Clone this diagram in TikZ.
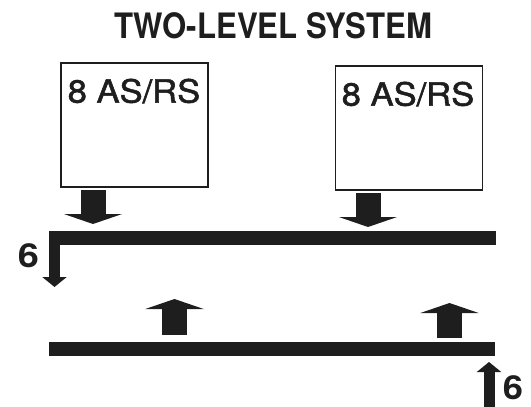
\documentclass[tikz,border=0pt]{standalone}
\usepackage{fontspec}
\setmainfont{TeX Gyre Heros}
\newfontfamily\medfont[FakeBold=1.6]{TeX Gyre Heros}
\usetikzlibrary{arrows.meta}
\definecolor{ink}{HTML}{1E1E1E}
\begin{document}
\begin{tikzpicture}[x=1pt,y=-1pt,
  station/.style={draw=ink,line width=1.4pt,inner sep=0pt,minimum width=147pt,minimum height=124pt},
  stlabel/.style={text=ink,inner sep=0pt,font=\medfont\fontsize{32}{32}\selectfont},
  heading/.style={text=ink,inner sep=0pt,font=\bfseries\fontsize{35}{35}\selectfont},
  count/.style={text=ink,inner sep=0pt,font=\bfseries\fontsize{33}{33}\selectfont},
  track/.style={draw=ink,line width=14pt},
  feed/.style={draw=ink,line width=25pt,-{Triangle[width=58pt,length=10pt]}},
  link/.style={draw=ink,line width=11pt,-{Triangle[width=24pt,length=10pt]}}]
\useasboundingbox (0,0) rectangle (531,407);

% title
\node[heading] (title) at (273,25.5) {\scalebox{0.89}[1]{TWO-LEVEL SYSTEM}};

% the two storage blocks
\node[station] (boxL) at (134.5,125) {};
\node[station] (boxR) at (409,128) {};
\node[stlabel] (labL) at (134,91) {\scalebox{1.08}[1]{8 AS/RS}};
\node[stlabel] (labR) at (408,94) {\scalebox{1.08}[1]{8 AS/RS}};

% feeds from the blocks down to the upper track
\coordinate (inL0) at (93,190);  \coordinate (inL1) at (93,224);
\coordinate (inR0) at (368,193); \coordinate (inR1) at (368,227);
\draw[feed] (inL0) -- (inL1);
\draw[feed] (inR0) -- (inR1);

% upper track with its drop on the left
\coordinate (topW) at (49,238);  \coordinate (topE) at (496,238);
\coordinate (dropA) at (54.5,231); \coordinate (dropB) at (54.5,287);
\draw[link] (dropA) -- (dropB);
\draw[track] (topW) -- (topE);

% lower track with its rise on the right
\coordinate (botW) at (49,349);  \coordinate (botE) at (495,349);
\draw[track] (botW) -- (botE);
\coordinate (riseA) at (489,407); \coordinate (riseB) at (489,362);
\draw[link] (riseA) -- (riseB);

% feeds up from the lower track
\coordinate (upL0) at (174.5,335); \coordinate (upL1) at (174.5,299);
\coordinate (upR0) at (449.5,338); \coordinate (upR1) at (449.5,303);
\draw[feed] (upL0) -- (upL1);
\draw[feed] (upR0) -- (upR1);

% counts
\node[count] (sixL) at (28.5,256) {\scalebox{1.15}[1]{6}};
\node[count] (sixR) at (513,388) {\scalebox{1.1}[1]{6}};
\end{tikzpicture}
\end{document}
